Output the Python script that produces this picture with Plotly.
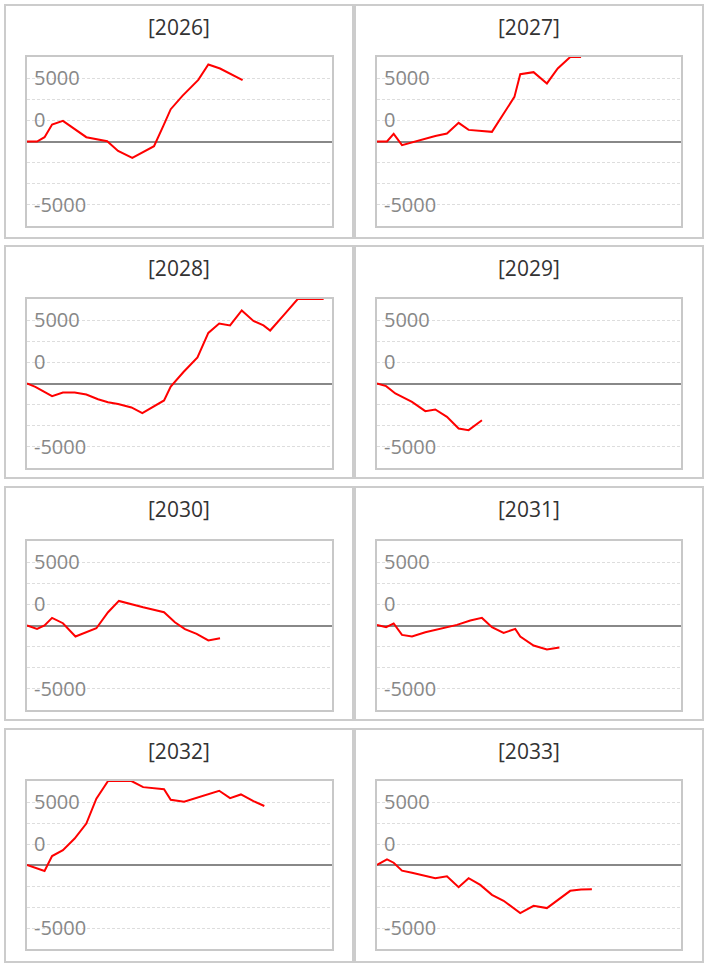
import plotly.graph_objects as go
import numpy as np

# ---- data (x = day of year, value) ----
years = ["2026", "2027", "2028", "2029", "2030", "2031", "2032", "2033"]

x_2026 = [0, 12, 21, 30, 43, 71, 96, 109, 126, 152, 163, 172, 186, 205, 217, 231, 258]
v_2026 = [0, 0, 340, 1340, 1625, 340, 25, -740, -1290, -370, 1210, 2550, 3600, 4860, 6075, 5760, 4840]

x_2027 = [0, 12, 20, 30, 70, 84, 98, 110, 138, 165, 172, 188, 204, 217, 232, 245]
v_2027 = [0, 0, 600, -290, 440, 630, 1470, 915, 760, 3520, 5310, 5470, 4580, 5760, 7000, 7200]

x_2028 = [0, 10, 30, 43, 57, 71, 85, 97, 109, 125, 138, 164, 172, 187, 204, 217, 230, 243, 257, 271, 283, 291, 307, 324, 355]
v_2028 = [0, -270, -1000, -710, -710, -870, -1240, -1475, -1610, -1890, -2340, -1340, -240, 890, 2050, 3990, 4730, 4580, 5760, 4940, 4580, 4180, 5370, 6900, 7300]

x_2029 = [0, 11, 22, 42, 58, 70, 84, 98, 110, 126]
v_2029 = [0, -210, -790, -1450, -2180, -2050, -2630, -3550, -3680, -2900]

x_2030 = [0, 12, 21, 30, 43, 58, 83, 97, 110, 125, 139, 164, 177, 189, 203, 217, 231]
v_2030 = [0, -265, 0, 600, 180, -870, -215, 1050, 1940, 1660, 1440, 1050, 260, -290, -660, -1180, -1000]

x_2031 = [0, 11, 20, 30, 42, 58, 96, 112, 126, 138, 152, 166, 172, 188, 204, 219]
v_2031 = [50, -130, 160, -740, -870, -530, 50, 390, 600, -130, -580, -270, -870, -1580, -1890, -1740]

x_2032 = [0, 21, 30, 43, 57, 71, 83, 97, 125, 139, 164, 172, 188, 230, 243, 256, 271, 284]
v_2032 = [0, -470, 710, 1180, 2100, 3290, 5260, 7000, 7000, 6180, 6020, 5180, 5020, 5890, 5310, 5600, 5070, 4680]

x_2033 = [0, 12, 20, 30, 42, 70, 84, 98, 110, 124, 138, 152, 172, 188, 204, 216, 232, 245, 258]
v_2033 = [0, 450, 180, -450, -610, -1050, -890, -1760, -1050, -1580, -2370, -2840, -3810, -3240, -3420, -2840, -2050, -1950, -1920]

series_x = [x_2026, x_2027, x_2028, x_2029, x_2030, x_2031, x_2032, x_2033]
series_v = [v_2026, v_2027, v_2028, v_2029, v_2030, v_2031, v_2032, v_2033]

# axis ticks (as shown: gridline step 5000/3, labels on three of them)
Y_MAX = 20000 / 3
grid_vals = [-5000, -10000 / 3, -5000 / 3, 0, 5000 / 3, 10000 / 3, 5000]
grid_text = ["-5000", "", "", "", "0", "", "5000"]

# ---- layout geometry (pixels) ----
W, H = 708, 967
col_plot = [(27, 332), (377, 681)]
row_plot = [(57, 226), (299, 468), (541, 710), (781, 949)]
col_box = [(5, 353), (355, 703)]
row_box = [(5, 238), (246, 478), (487, 720), (729, 962)]
title_y = [27, 268, 509, 751]

fig = go.Figure()
shapes = []
annotations = []
layout_axes = {}

for i, yr in enumerate(years):
    r, c = divmod(i, 2)
    n = "" if i == 0 else str(i + 1)
    xa, ya = "x" + n, "y" + n
    x0, x1 = col_plot[c]
    y0, y1 = row_plot[r]
    vals = np.clip(np.array(series_v[i], dtype=float), -Y_MAX, Y_MAX)
    fig.add_trace(go.Scatter(
        x=series_x[i], y=vals, mode="lines",
        line=dict(color="#ff0000", width=2),
        xaxis=xa, yaxis=ya, showlegend=False, hoverinfo="skip"))
    layout_axes["xaxis" + n] = dict(
        domain=[x0 / W, x1 / W], range=[0, 365], anchor=ya,
        showgrid=False, zeroline=False, showticklabels=False, ticks="",
        showline=True, mirror=True, linecolor="#c8c8c8", linewidth=2,
        layer="below traces", fixedrange=True)
    layout_axes["yaxis" + n] = dict(
        domain=[1 - y1 / H, 1 - y0 / H], range=[-Y_MAX, Y_MAX], anchor=xa,
        tickmode="array", tickvals=grid_vals, ticktext=grid_text,
        ticklabelposition="inside", ticks="", ticklabelstandoff=8,
        tickfont=dict(family="Open Sans", size=20, color="#888888"),
        showgrid=True, gridcolor="#dddddd", gridwidth=1, griddash="3px,2px",
        zeroline=True, zerolinecolor="#888888", zerolinewidth=2,
        showline=True, mirror=True, linecolor="#c8c8c8", linewidth=2,
        layer="below traces", fixedrange=True)
    bx0, bx1 = col_box[c]
    by0, by1 = row_box[r]
    shapes.append(dict(type="rect", xref="paper", yref="paper",
                       x0=bx0 / W, x1=bx1 / W, y0=1 - by1 / H, y1=1 - by0 / H,
                       line=dict(color="#cccccc", width=2), layer="below"))
    annotations.append(dict(text="[" + yr + "]", xref="paper", yref="paper",
                            x=(bx0 + bx1) / 2 / W, y=1 - title_y[r] / H,
                            xanchor="center", yanchor="middle", showarrow=False,
                            font=dict(family="Open Sans", size=21, color="#333333")))

fig.update_layout(
    width=W, height=H, margin=dict(l=0, r=0, t=0, b=0),
    paper_bgcolor="white", plot_bgcolor="white",
    shapes=shapes, annotations=annotations, **layout_axes)

fig.write_html("out.html", config={"displayModeBar": False},
               post_script="document.body.style.margin='0px';")
